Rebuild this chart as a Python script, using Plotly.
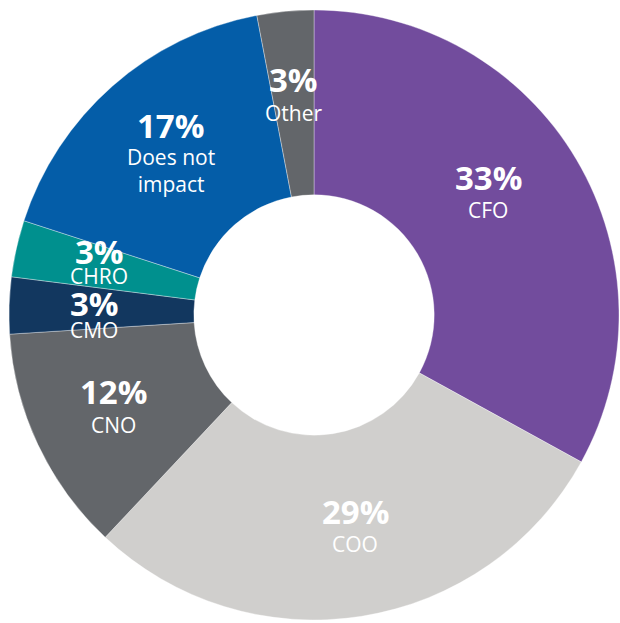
import math
import plotly.graph_objects as go

# Share of responses by role
roles = ["CFO", "COO", "CNO", "CMO", "CHRO", "Does not impact", "Other"]
shares = [33, 29, 12, 3, 3, 17, 3]
label_lines = ["CFO", "COO", "CNO", "CMO", "CHRO", "Does not<br>impact", "Other"]
colors = ["#724C9D", "#D0CFCD", "#63666A", "#12375F", "#00908E", "#045DA8", "#63666A"]

W, H = 620, 623
CX, CY, R = 314, 315, 305       # donut centre and outer radius (px)
LABEL_R = 220                   # radius at which slice label groups sit (px)
# half the vertical distance between the percentage and the role name (px)
half_gap = [15, 15, 15, 12, 11, 14, 15]
# fine placement of each label group (px, right / down)
nudge = [(-15, -11), (7, -6), (-1, -2), (0, 7), (0, -5), (2, -10), (0, -1)]

PCT_SIZE, NAME_SIZE = 33, 21

fig = go.Figure(go.Pie(
    labels=roles,
    values=shares,
    sort=False,
    direction="clockwise",
    rotation=0,
    hole=0.394,
    marker=dict(colors=colors, line=dict(color="rgba(255,255,255,0.35)", width=1)),
    textinfo="none",
    hoverinfo="label+percent",
    showlegend=False,
    domain=dict(x=[(CX - R) / W, (CX + R) / W],
                y=[1 - (CY + R) / H, 1 - (CY - R) / H]),
))

font_family = "Open Sans, Noto Sans, sans-serif"
total = sum(shares)
cum = 0
for share, text, g, (dx, dy) in zip(shares, label_lines, half_gap, nudge):
    mid = (cum + share / 2) / total * 2 * math.pi
    cum += share
    px = CX + LABEL_R * math.sin(mid)
    py = CY - LABEL_R * math.cos(mid)
    x, y = px / W, 1 - py / H
    fig.add_annotation(x=x, y=y, xref="paper", yref="paper",
                       text=f"<b>{share}%</b>", showarrow=False,
                       xanchor="center", yanchor="middle",
                       xshift=dx, yshift=g - dy,
                       font=dict(family=font_family, size=PCT_SIZE, color="white"))
    fig.add_annotation(x=x, y=y, xref="paper", yref="paper",
                       text=text, showarrow=False,
                       xanchor="center", yanchor="top",
                       xshift=dx, yshift=-(g - 13) - dy,
                       font=dict(family=font_family, size=NAME_SIZE, color="white"))

fig.update_layout(
    width=W, height=H,
    margin=dict(l=0, r=0, t=0, b=0),
    paper_bgcolor="white",
    plot_bgcolor="white",
)

fig.write_html("out.html")
